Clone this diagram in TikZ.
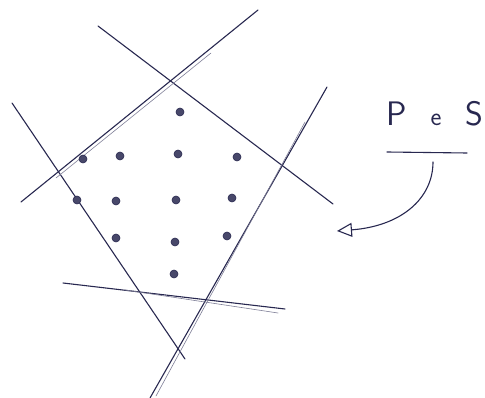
\documentclass[tikz,border=0pt]{standalone}
\usetikzlibrary{arrows.meta}
\definecolor{penink}{RGB}{40,40,80}

\begin{document}
\begin{tikzpicture}[x=1pt, y=-1pt,
    pen/.style={draw=penink, line width=1.1pt, line cap=round},
    retrace/.style={draw=penink!60, line width=0.6pt, line cap=round},
    lattice/.style={circle, draw=penink, fill=penink!85, line width=0.6pt,
                    inner sep=0pt, minimum size=8pt},
    arr/.style={pen, -{Triangle[open, length=15pt, width=14pt]}}
]
    \useasboundingbox (0,0) rectangle (485,398);

    % the five half-planes
    \draw[pen] (98,26)   -- (333,204);
    \draw[pen] (21,202)  -- (258,10);
    \draw[pen] (12,103)  -- (185,359);
    \draw[pen] (327,87)  -- (150,398);
    \draw[pen] (63,283)  -- (285,309);
    % pen drawn twice over some sides
    \draw[retrace] (56,178)  -- (211,53);
    \draw[retrace] (305,122) -- (156,396);
    \draw[retrace] (125,290) -- (278,313);

    % integer points inside
    \foreach \x/\y [count=\i] in {180/112, 83/159, 120/156, 178/154, 237/157,
                                  77/200, 116/201, 176/200, 232/198,
                                  116/238, 175/242, 227/236, 174/274}
        \node[lattice] (pt\i) at (\x,\y) {};

    % label and arrow
    \node[anchor=base west, inner sep=0pt, text=penink,
          font=\sffamily\fontsize{34}{34}\selectfont] (pes) at (386,126)
        {P\hspace{24pt}{\fontsize{26}{26}\selectfont e}\hspace{24pt}S};
    \draw[pen] (387,152) -- (467,153);
    \coordinate (tail) at (433,162);
    \coordinate (head) at (337,231);
    \draw[arr] (tail) .. controls (433,198) and (402,226) .. (head);
\end{tikzpicture}
\end{document}
